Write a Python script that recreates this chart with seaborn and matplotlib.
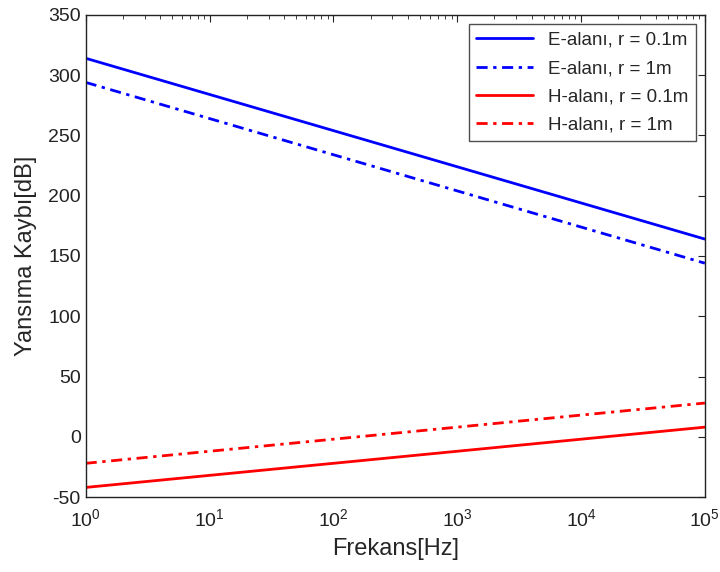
import matplotlib
matplotlib.use("Agg")
import matplotlib.pyplot as plt
import pandas as pd
import seaborn as sns

# frequency decades and loss values (dB)
freq = [1, 10, 100, 1000, 10000, 100000]
e_01 = [314, 284, 254, 224, 194, 164]
e_1 = [294, 264, 234, 204, 174, 144]
h_01 = [-42, -32, -22, -12, -2, 8]
h_1 = [-22, -12, -2, 8, 18, 28]

labels = ["E-alanı, r = 0.1m", "E-alanı, r = 1m", "H-alanı, r = 0.1m", "H-alanı, r = 1m"]
colors = ["#0000ff", "#0000ff", "#ff0000", "#ff0000"]
styles = ["-", (0, (4, 2, 1.2, 2)), "-", (0, (4, 2, 1.2, 2))]

df = pd.DataFrame({
    "f": freq * 4,
    "loss": e_01 + e_1 + h_01 + h_1,
    "name": sum([[n] * len(freq) for n in labels], []),
})

sns.set_style("white")
plt.rcParams["font.family"] = ["Liberation Sans", "DejaVu Sans"]
plt.rcParams["axes.unicode_minus"] = False

fig = plt.figure(figsize=(7.2, 5.72), dpi=100)
ax = fig.add_axes([0.119, 0.131, 0.860, 0.843])

for name, c, ls in zip(labels, colors, styles):
    sns.lineplot(data=df[df["name"] == name], x="f", y="loss", ax=ax,
                 color=c, linestyle=ls, linewidth=2, label=name)

ax.set_xscale("log")
ax.set_xlim(1, 1e5)
ax.set_ylim(-50, 350)
ax.set_yticks(range(-50, 351, 50))
ax.tick_params(axis="both", which="both", direction="in", top=True, right=True,
               labelsize=14, colors="#222222")
ax.tick_params(axis="x", which="major", pad=8)
ax.tick_params(which="major", length=5)
ax.tick_params(which="minor", length=3)
for s in ax.spines.values():
    s.set_color("#222222")
    s.set_linewidth(1)

ax.set_xlabel("Frekans[Hz]", fontsize=17, labelpad=6)
ax.set_ylabel("Yansıma Kaybı[dB]", fontsize=17, labelpad=8)

leg = ax.legend(loc="upper right", fontsize=13.5, frameon=True, fancybox=False,
                borderaxespad=0.5, handlelength=3.0, labelspacing=0.6)
leg.get_frame().set_edgecolor("#222222")
leg.get_frame().set_linewidth(1)

fig.savefig("out.png", dpi=100)
